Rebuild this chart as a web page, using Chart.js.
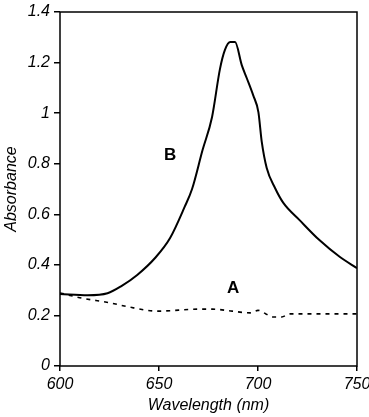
<!DOCTYPE html>
<html>
<head>
<meta charset="utf-8">
<script src="https://cdn.jsdelivr.net/npm/chart.js@4"></script>
<style>
  html, body { margin: 0; padding: 0; background: #fff; }
  #wrap { width: 369px; height: 417px; }
</style>
</head>
<body>
<div id="wrap"><canvas id="c" width="369" height="417"></canvas></div>
<script>
// curve B: wavelength (nm) and absorbance
const waveB = [600, 614, 624, 631, 639, 648, 655.6, 663, 666.7, 672, 676.8, 680.8, 683.3, 686, 688.4, 691.8, 694.3, 697.6, 700.2, 701.9, 704.4, 708.6, 712.8, 721, 731, 741.4, 750];
const absB  = [0.285, 0.28, 0.288, 0.316, 0.36, 0.427, 0.506, 0.63, 0.70, 0.854, 0.985, 1.175, 1.25, 1.281, 1.281, 1.19, 1.139, 1.07, 1.004, 0.886, 0.783, 0.704, 0.645, 0.577, 0.498, 0.431, 0.387];
// curve A (dashed)
const waveA = [600, 610, 625, 637, 649, 671, 677, 687, 696, 700, 704, 707.5, 712, 716, 750];
const absA  = [0.289, 0.27, 0.25, 0.23, 0.217, 0.225, 0.225, 0.217, 0.21, 0.22, 0.206, 0.194, 0.194, 0.206, 0.206];
const xTicks = [600, 650, 700, 750];
const yTicks = [0, 0.2, 0.4, 0.6, 0.8, 1, 1.2, 1.4];
const curveLabels = [
  { text: 'B', x: 655.6, y: 0.834 },
  { text: 'A', x: 687.4, y: 0.308 }
];

const toPts = (xs, ys) => xs.map((x, i) => ({ x: x, y: ys[i] }));

const frame = {
  id: 'frame',
  afterDraw(chart) {
    const { ctx, chartArea: a, scales } = chart;
    ctx.save();
    ctx.strokeStyle = '#000';
    ctx.lineWidth = 1.5;
    ctx.strokeRect(a.left, a.top, a.right - a.left, a.bottom - a.top);
    ctx.fillStyle = '#000';
    ctx.font = 'bold 17px "Liberation Sans", Arial, sans-serif';
    ctx.textAlign = 'center';
    ctx.textBaseline = 'middle';
    curveLabels.forEach(l => {
      ctx.fillText(l.text, scales.x.getPixelForValue(l.x), scales.y.getPixelForValue(l.y));
    });
    ctx.restore();
  }
};

const tickFont = { family: '"Liberation Sans", Arial, sans-serif', size: 16, style: 'italic' };

new Chart(document.getElementById('c'), {
  type: 'line',
  data: {
    datasets: [{
      label: 'B',
      data: toPts(waveB, absB),
      borderColor: '#000',
      borderWidth: 2,
      pointRadius: 0,
      cubicInterpolationMode: 'monotone',
      fill: false
    }, {
      label: 'A',
      data: toPts(waveA, absA),
      borderColor: '#000',
      borderWidth: 1.6,
      borderDash: [4, 5],
      pointRadius: 0,
      cubicInterpolationMode: 'monotone',
      fill: false
    }]
  },
  options: {
    responsive: false,
    animation: false,
    layout: { padding: { left: 0, right: 12, top: 12, bottom: 0 } },
    plugins: { legend: { display: false }, tooltip: { enabled: false } },
    scales: {
      x: {
        type: 'linear',
        min: 600, max: 750,
        afterBuildTicks: s => { s.ticks = xTicks.map(v => ({ value: v })); },
        afterFit: s => { s.height = 51; s.paddingRight = 0; s.paddingLeft = 0; },
        grid: { drawOnChartArea: false, tickLength: 5, color: '#000', lineWidth: 1.5 },
        border: { display: false },
        ticks: { color: '#000', font: tickFont, padding: 4, maxRotation: 0 },
        title: { display: true, text: 'Wavelength (nm)', color: '#000', font: tickFont, padding: { top: 0, bottom: 2 } }
      },
      y: {
        min: 0, max: 1.4,
        afterBuildTicks: s => { s.ticks = yTicks.map(v => ({ value: v })); },
        afterFit: s => { s.width = 60; s.paddingTop = 0; s.paddingBottom = 0; },
        grid: { drawOnChartArea: false, tickLength: 6, color: '#000', lineWidth: 1.5 },
        border: { display: false },
        ticks: { color: '#000', font: tickFont, padding: 4, callback: v => String(Math.round(v * 10) / 10) },
        title: { display: true, text: 'Absorbance', color: '#000', font: tickFont, padding: { top: 2, bottom: 0 } }
      }
    }
  },
  plugins: [frame]
});
</script>
</body>
</html>
